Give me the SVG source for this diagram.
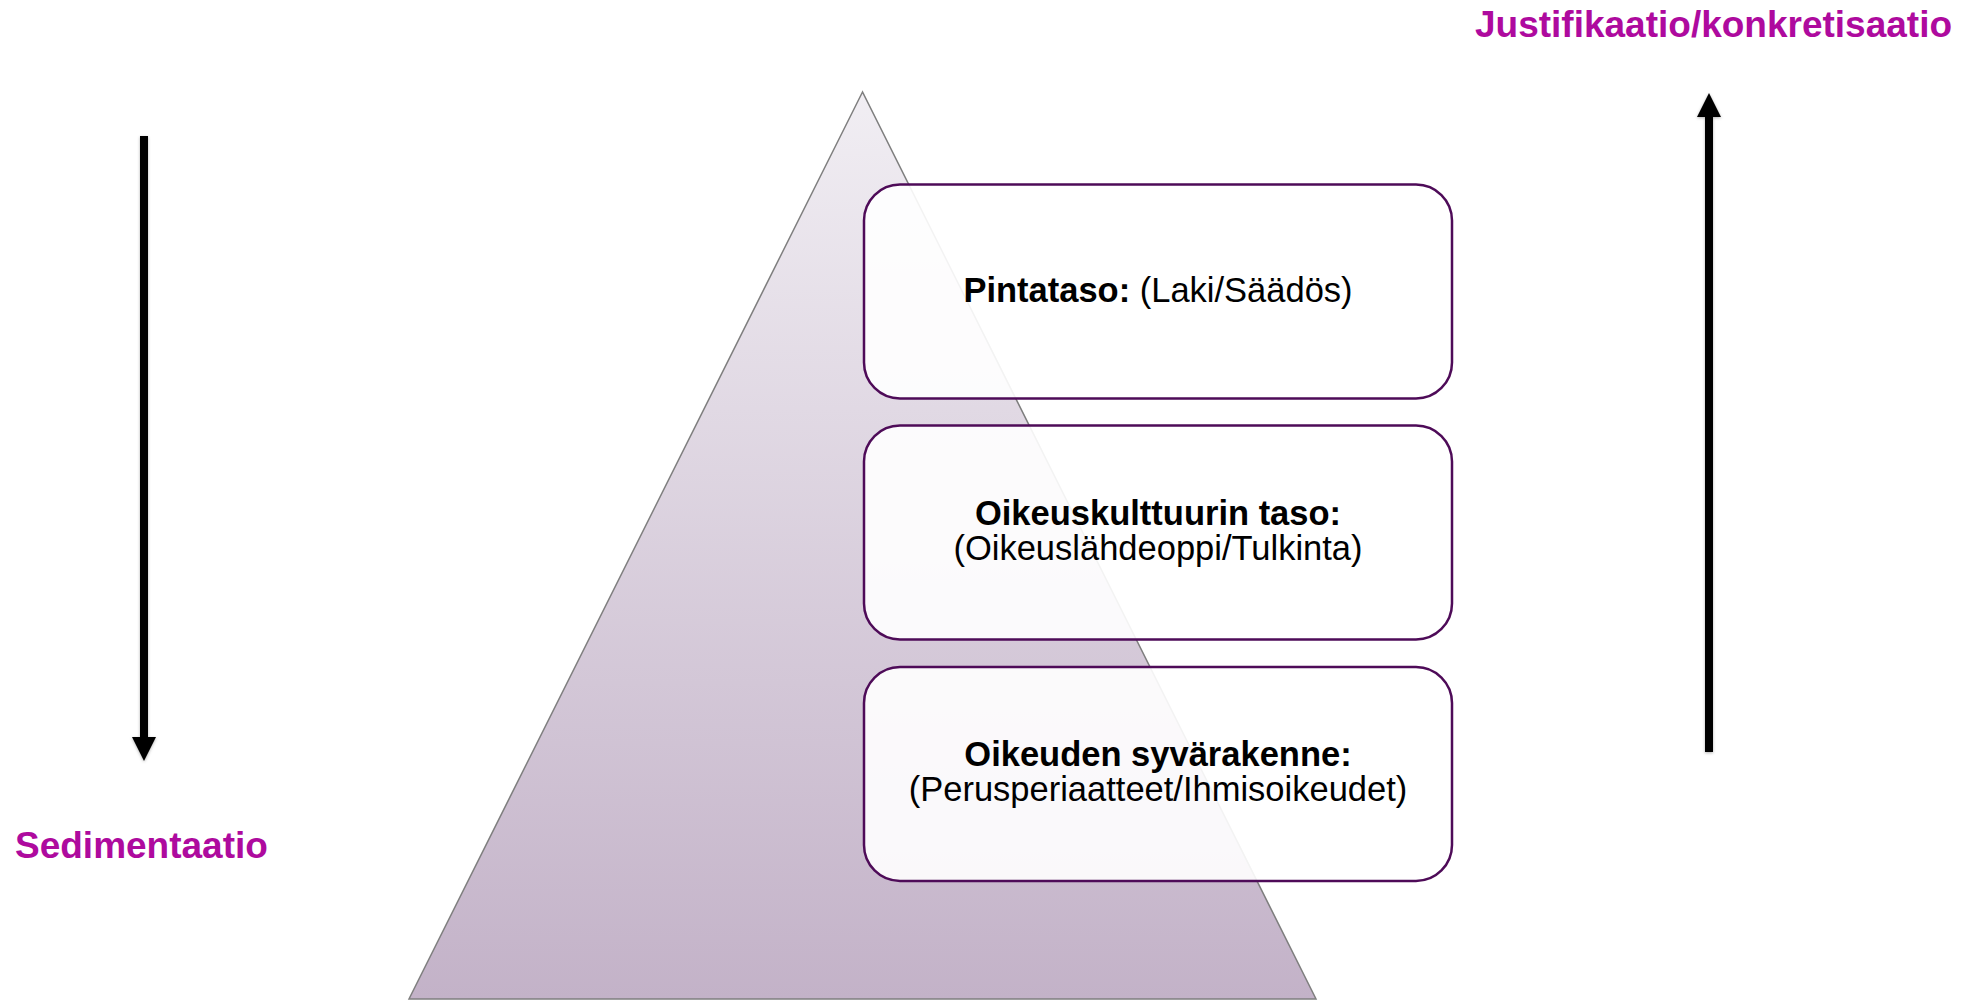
<svg xmlns="http://www.w3.org/2000/svg" width="1983" height="1001" viewBox="0 0 1983 1001">
  <style>
    .box { fill: #ffffff; fill-opacity: 0.9; stroke: #4e0b58; stroke-width: 2.5; }
    .t { font-family: "Liberation Sans", Arial, sans-serif; font-size: 34.5px; fill: #000000; text-anchor: middle; }
    .b { font-weight: bold; }
    .lbl { font-family: "Liberation Sans", Arial, sans-serif; font-size: 37px; font-weight: bold; fill: #ae0a9e; }
    .arrow { stroke: #000000; stroke-width: 8; fill: none; marker-end: url(#head); filter: url(#sh); }
  </style>
  <defs>
    <linearGradient id="tri" x1="0" y1="0" x2="0" y2="1">
      <stop offset="0" stop-color="#f1eef3"/>
      <stop offset="1" stop-color="#c3b2c8"/>
    </linearGradient>
    <marker id="head" viewBox="0 -12 24 24" refX="0" refY="0" markerUnits="userSpaceOnUse" markerWidth="24" markerHeight="24" orient="auto">
      <path d="M0,-12 L24,0 L0,12 Z" fill="#000000"/>
    </marker>
    <filter id="sh" filterUnits="userSpaceOnUse" x="0" y="0" width="1983" height="1001">
      <feDropShadow dx="0" dy="1" stdDeviation="1.5" flood-color="#000000" flood-opacity="0.3"/>
    </filter>
  </defs>
  <rect width="1983" height="1001" fill="#ffffff"/>

  <g id="pyramid">
    <polygon points="862.5,92 409,999 1316,999" fill="url(#tri)" stroke="#7f7f7f" stroke-width="1.5"/>
  </g>

  <g id="node-pintataso">
    <rect class="box" x="864" y="184.5" width="588" height="214" rx="36" ry="36"/>
    <text class="t" x="1158" y="302"><tspan class="b">Pintataso:</tspan> (Laki/Säädös)</text>
  </g>

  <g id="node-oikeuskulttuuri">
    <rect class="box" x="864" y="425.5" width="588" height="214" rx="36" ry="36"/>
    <text class="t" x="1158" y="525"><tspan class="b">Oikeuskulttuurin taso:</tspan></text>
    <text class="t" x="1158" y="560">(Oikeuslähdeoppi/Tulkinta)</text>
  </g>

  <g id="node-syvarakenne">
    <rect class="box" x="864" y="667" width="588" height="214" rx="36" ry="36"/>
    <text class="t" x="1158" y="766"><tspan class="b">Oikeuden syvärakenne:</tspan></text>
    <text class="t" x="1158" y="801">(Perusperiaatteet/Ihmisoikeudet)</text>
  </g>

  <g id="label-sedimentaatio">
    <text class="lbl" x="15" y="858">Sedimentaatio</text>
  </g>

  <g id="label-justifikaatio">
    <text class="lbl" x="1475" y="37">Justifikaatio/konkretisaatio</text>
  </g>

  <g id="connectors">
    <line class="arrow" x1="144" y1="136" x2="144" y2="737"/>
    <line class="arrow" x1="1709" y1="752" x2="1709" y2="117"/>
  </g>
</svg>
